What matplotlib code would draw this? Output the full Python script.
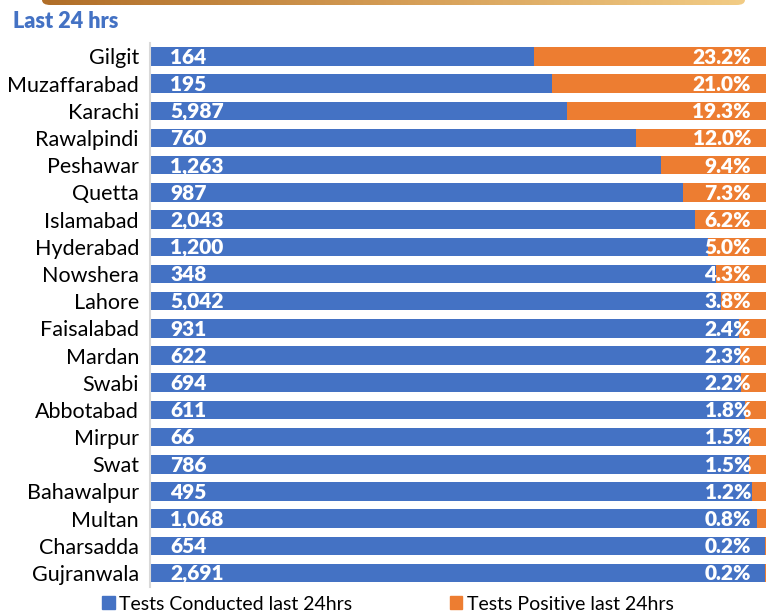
import matplotlib
matplotlib.use('Agg')
import matplotlib.pyplot as plt
from matplotlib.patches import FancyBboxPatch, Patch
from matplotlib.colors import LinearSegmentedColormap
import numpy as np

plt.rcParams['font.family'] = ['Lato', 'DejaVu Sans']

cities = ['Gilgit', 'Muzaffarabad', 'Karachi', 'Rawalpindi', 'Peshawar', 'Quetta',
          'Islamabad', 'Hyderabad', 'Nowshera', 'Lahore', 'Faisalabad', 'Mardan',
          'Swabi', 'Abbotabad', 'Mirpur', 'Swat', 'Bahawalpur', 'Multan',
          'Charsadda', 'Gujranwala']
tests = ['164', '195', '5,987', '760', '1,263', '987', '2,043', '1,200', '348', '5,042',
         '931', '622', '694', '611', '66', '786', '495', '1,068', '654', '2,691']
positive = ['23.2%', '21.0%', '19.3%', '12.0%', '9.4%', '7.3%', '6.2%', '5.0%', '4.3%',
            '3.8%', '2.4%', '2.3%', '2.2%', '1.8%', '1.5%', '1.5%', '1.2%', '0.8%',
            '0.2%', '0.2%']
# share of each bar in blue / orange (percent of bar)
blue_share = [62.3, 65.2, 67.6, 78.7, 82.9, 86.4, 88.3, 90.5, 91.7, 92.5,
              95.4, 95.6, 95.8, 96.4, 97.1, 97.1, 97.6, 98.4, 99.7, 99.6]
orange_share = [100 - b for b in blue_share]

blue = '#4472C4'
orange = '#ED7D31'

fig = plt.figure(figsize=(7.66, 6.14), dpi=100)
ax = fig.add_axes([150/766, 27.4/614, 617/766, 543.7/614])

y = np.arange(len(cities))
ax.barh(y, blue_share, height=0.68, color=blue)
ax.barh(y, orange_share, left=blue_share, height=0.68, color=orange)

for i in y:
    ax.text(20/617*100, i + 0.03, tests[i], color='white', fontsize=15, fontweight='heavy',
            va='center', ha='left')
    ax.text(601/617*100, i + 0.03, positive[i], color='white', fontsize=15, fontweight='heavy',
            va='center', ha='right')

ax.set_xlim(0, 100)
ax.set_ylim(len(cities) - 0.5, -0.5)
ax.set_yticks(y)
ax.set_yticklabels(cities, fontsize=15.5)
ax.tick_params(axis='y', length=0, pad=8)
ax.set_xticks([])
for s in ['top', 'right', 'bottom']:
    ax.spines[s].set_visible(False)
ax.spines['left'].set_color('#d9d9d9')
ax.spines['left'].set_linewidth(1.5)

fig.text(13/766, 1 - 22/614, 'Last 24 hrs', color=blue, fontsize=15.5,
         fontweight='heavy', va='center', ha='left')

# gold banner edge at the very top
grad = np.linspace(0, 1, 256).reshape(1, -1)
cmap = LinearSegmentedColormap.from_list('gold', ['#b06e28', '#d49c55', '#f2cc85'])
bax = fig.add_axes([42/766, 1 - 5/614, 703/766, 12/614])
bax.axis('off')
im = bax.imshow(grad, aspect='auto', cmap=cmap, extent=[0, 1, 0, 1])
clip = FancyBboxPatch((0.0, 0.0), 1.0, 1.0, boxstyle='round,pad=0,rounding_size=0.012',
                      transform=bax.transAxes, facecolor='none', edgecolor='none',
                      mutation_aspect=35)
bax.add_patch(clip)
im.set_clip_path(clip)
bax.set_xlim(0, 1)
bax.set_ylim(0, 1)

handles = [Patch(color=blue, label='Tests Conducted last 24hrs'),
           Patch(color=orange, label='Tests Positive last 24hrs')]
fig.legend(handles=handles, loc='center', bbox_to_anchor=(388/766, 1 - 604/614),
           ncol=2, frameon=False, fontsize=14, handlelength=0.62, handleheight=0.62,
           handletextpad=0.25, columnspacing=5.0)

fig.savefig('out.png', dpi=100)
